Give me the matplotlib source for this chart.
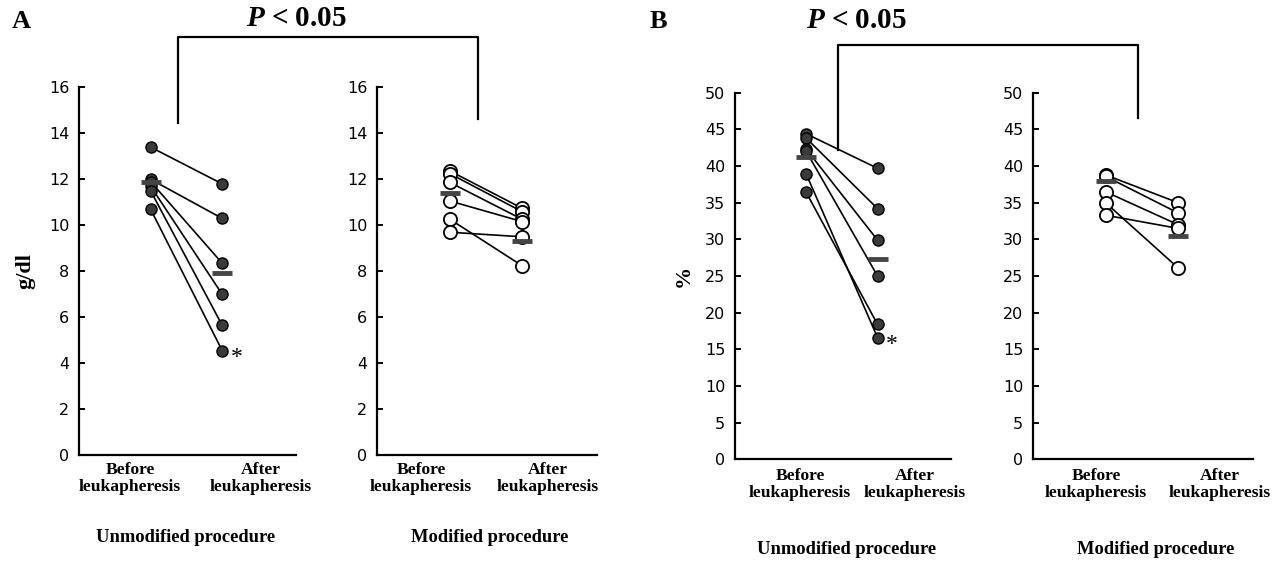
import matplotlib
matplotlib.use("Agg")
import matplotlib.pyplot as plt
from matplotlib.lines import Line2D

# ---------------- data ----------------
categories = ["Before\nleukapheresis", "After\nleukapheresis"]
groups = ["Unmodified procedure", "Modified procedure"]

# Panel A: haemoglobin (g/dl)
a_unmod_before = [13.4, 12.0, 11.9, 11.7, 11.5, 10.7]
a_unmod_after = [11.8, 10.3, 8.35, 7.0, 5.65, 4.55]
a_unmod_mean = [11.87, 7.92]
a_mod_before = [12.37, 12.25, 11.87, 11.06, 10.27, 9.7]
a_mod_after = [10.74, 10.59, 10.26, 10.16, 8.24, 9.5]
a_mod_mean = [11.39, 9.32]
a_ticks = [0, 2, 4, 6, 8, 10, 12, 14, 16]

# Panel B: haematocrit (%)
b_unmod_before = [44.4, 43.8, 42.3, 42.0, 38.9, 36.4]
b_unmod_after = [39.7, 34.2, 29.9, 25.0, 16.6, 18.4]
b_unmod_mean = [41.3, 27.3]
b_mod_before = [38.8, 38.6, 36.5, 35.0, 33.3]
b_mod_after = [35.0, 33.6, 32.0, 26.1, 31.5]
b_mod_mean = [37.9, 30.5]
b_ticks = [0, 5, 10, 15, 20, 25, 30, 35, 40, 45, 50]

p_text = "< 0.05"

# ---------------- layout ----------------
W, H = 1281, 564
fig = plt.figure(figsize=(W / 100, H / 100), dpi=100)
plt.rcParams["mathtext.fontset"] = "custom"
plt.rcParams["mathtext.bfit"] = "Liberation Serif:italic:bold"
plt.rcParams["mathtext.it"] = "Liberation Serif:italic:bold"

def fx(px):
    return px / W

def fy(py):
    return 1 - py / H

SERIF = "Liberation Serif"
SANS = "DejaVu Sans"

XPOS = [0.33, 0.66]

def make_axes(left, right, top, bottom, ymax, ticks):
    ax = fig.add_axes([fx(left), fy(bottom), fx(right - left), (bottom - top) / H])
    ax.set_xlim(0, 1)
    ax.set_ylim(0, ymax)
    ax.spines["top"].set_visible(False)
    ax.spines["right"].set_visible(False)
    for s in ("left", "bottom"):
        ax.spines[s].set_linewidth(1.6)
    ax.set_xticks([])
    ax.set_yticks(ticks)
    ax.set_yticklabels([str(t) for t in ticks], fontfamily=SANS, fontsize=11.5)
    ax.tick_params(axis="y", direction="in", length=4, width=1.4, pad=7)
    ax.patch.set_alpha(0)
    return ax

def draw_pairs(ax, before, after, mean, filled, star=None):
    for b, a in zip(before, after):
        ax.plot(XPOS, [b, a], color="black", lw=1.2, zorder=2)
    if filled:
        kw = dict(marker="o", ms=8, mfc="#3a3a3a", mec="black", mew=1.0)
    else:
        kw = dict(marker="o", ms=9.5, mfc="white", mec="black", mew=1.3)
    ax.plot([XPOS[0]] * len(before), before, ls="none", zorder=3, **kw)
    ax.plot([XPOS[1]] * len(after), after, ls="none", zorder=3, **kw)
    ax.plot(XPOS, mean, ls="none", marker="_", ms=14, mew=3.5, color="#444444", zorder=4)
    if star is not None:
        ax.annotate("*", (XPOS[1], star), xytext=(6, -5), textcoords="offset points",
                    fontsize=17, fontfamily=SERIF, ha="left", va="center")

def cat_labels(xs, y_px):
    for x, lab in zip(xs, categories):
        fig.text(fx(x), fy(y_px), lab, ha="center", va="top", fontfamily=SERIF,
                 fontweight="bold", fontsize=12.6, linespacing=1.1)

# Panel A
ax1 = make_axes(79, 296, 87.3, 455.3, 16, a_ticks)
ax2 = make_axes(377, 597, 87.3, 455.3, 16, a_ticks)
draw_pairs(ax1, a_unmod_before, a_unmod_after, a_unmod_mean, True, star=min(a_unmod_after))
draw_pairs(ax2, a_mod_before, a_mod_after, a_mod_mean, False)
ax1.set_ylabel("g/dl", fontfamily=SERIF, fontweight="bold", fontsize=16, labelpad=10)
cat_labels([130, 261], 462)
cat_labels([421, 548], 462)
fig.text(fx(186), fy(537), groups[0], ha="center", va="center", fontfamily=SERIF,
         fontweight="bold", fontsize=13.3)
fig.text(fx(490), fy(537), groups[1], ha="center", va="center", fontfamily=SERIF,
         fontweight="bold", fontsize=13.3)

# Panel B
ax3 = make_axes(735, 951, 92.8, 459.3, 50, b_ticks)
ax4 = make_axes(1033, 1253, 92.8, 459.3, 50, b_ticks)
draw_pairs(ax3, b_unmod_before, b_unmod_after, b_unmod_mean, True, star=min(b_unmod_after))
draw_pairs(ax4, b_mod_before, b_mod_after, b_mod_mean, False)
ax3.set_ylabel("%", fontfamily=SERIF, fontweight="bold", fontsize=16, labelpad=8)
cat_labels([800, 915], 468)
cat_labels([1096, 1220], 468)
fig.text(fx(847), fy(549), groups[0], ha="center", va="center", fontfamily=SERIF,
         fontweight="bold", fontsize=13.3)
fig.text(fx(1156), fy(549), groups[1], ha="center", va="center", fontfamily=SERIF,
         fontweight="bold", fontsize=13.3)

# Panel letters
fig.text(fx(12), fy(21), "A", ha="left", va="center", fontfamily=SERIF,
         fontweight="bold", fontsize=19)
fig.text(fx(650), fy(21), "B", ha="left", va="center", fontfamily=SERIF,
         fontweight="bold", fontsize=19)

# Significance brackets
def bracket(x0, x1, ytop, yl, yr, xc, yt):
    fig.add_artist(Line2D([fx(x0), fx(x0), fx(x1), fx(x1)],
                          [fy(yl), fy(ytop), fy(ytop), fy(yr)],
                          color="black", lw=1.6))
    fig.text(fx(xc), fy(yt), r"$\mathbfit{P}$" + " " + p_text, ha="center", va="center",
             fontfamily=SERIF, fontweight="bold", fontsize=21)

bracket(178, 478, 37, 123, 119, 296, 18)
bracket(838, 1138, 45, 150, 118, 856, 20)

fig.savefig("out.png", dpi=100)
